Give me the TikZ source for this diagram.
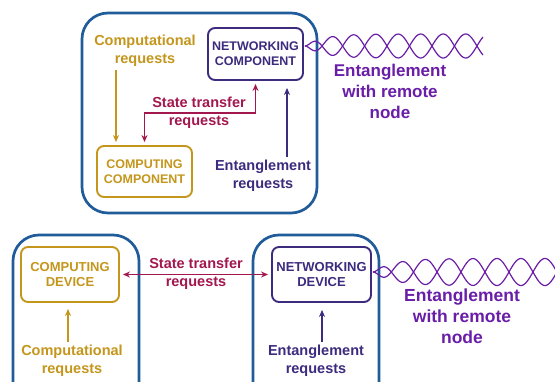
\documentclass[tikz,border=0pt]{standalone}
\usepackage{fontspec}
\setmainfont{Liberation Sans}
\usetikzlibrary{arrows.meta,calc}
\definecolor{cgold}{HTML}{C4961C}
\definecolor{ccrim}{HTML}{A3174F}
\definecolor{cpurp}{HTML}{3D2B7E}
\definecolor{cviol}{HTML}{6A1EA8}
\definecolor{cblue}{HTML}{1F5C99}
\begin{document}
\begin{tikzpicture}[x=1pt,y=-1pt,
  outerbox/.style={draw=cblue, line width=2.7pt, rounded corners=26pt, inner sep=0pt},
  innerbox/.style={line width=1.9pt, rounded corners=7pt, align=center, inner sep=0pt, font=\bfseries\fontsize{12.5}{15}\selectfont},
  compbox/.style={innerbox, draw=cgold, text=cgold},
  netbox/.style={innerbox, draw=cpurp, text=cpurp},
  reqtext/.style={align=center, font=\bfseries\fontsize{14.5}{18}\selectfont},
  remtext/.style={align=center, text=cviol, font=\bfseries\fontsize{17}{21}\selectfont},
  tip/.style={-{Stealth[length=7pt,width=6pt]}},
  garrow/.style={tip, draw=cgold, line width=1.8pt},
  parrow/.style={tip, draw=cpurp, line width=1.8pt},
  carrow/.style={{Stealth[length=7pt,width=6pt]}-{Stealth[length=7pt,width=6pt]}, draw=ccrim, line width=1.8pt, shorten <=3pt, shorten >=3pt},
  wave/.style={draw=cviol, line width=1.2pt}
]
\clip (0,0) rectangle (555,381);
\fill[white] (0,0) rectangle (555,381);

% ---------- top ----------
\node[outerbox, minimum width=235pt, minimum height=200pt] (tophost) at (199.5,113) {};
\node[netbox, minimum width=95pt, minimum height=52pt] (nc) at (255.5,54) {NETWORKING\\COMPONENT};
\node[compbox, minimum width=95pt, minimum height=51pt] (cc) at (144.5,171.5) {COMPUTING\\COMPONENT};
\node[reqtext, text=cgold] (creq) at (145,51) {Computational\\requests};
\node[reqtext, text=cpurp] (ereq) at (263,176) {Entanglement\\requests};
\node[reqtext, text=ccrim] (st1) at (199,113) {State transfer\\requests};
\node[remtext] (rem1) at (390,91) {Entanglement\\with remote\\node};

\draw[garrow, shorten >=3pt] ([xshift=-29pt]creq.south) -- ([xshift=-29pt]creq.south |- cc.north);
\draw[carrow] (cc.north) |- (st1.center) -| (nc.south);
\draw[parrow, shorten >=7pt] ([xshift=24pt]ereq.north) -- ([xshift=24pt]ereq.north |- nc.south);

\coordinate (w1) at ($(nc.east)+(1,-8)$);
\begin{scope}[shift={(w1)}]
\draw[wave] plot[domain=0:178, samples=220, smooth] (\x, {12*(1-exp(-\x/18))*sin(180/22.5*(\x+8*(1-exp(-\x/15))))});
\draw[wave] plot[domain=0:178, samples=220, smooth] (\x, {-12*(1-exp(-\x/18))*sin(180/22.5*(\x+8*(1-exp(-\x/15))))});
\end{scope}

% ---------- bottom ----------
\node[outerbox, minimum width=126pt, minimum height=200pt] (lhost) at (76,335) {};
\node[outerbox, minimum width=126pt, minimum height=200pt] (rhost) at (316,335) {};
\node[compbox, minimum width=98pt, minimum height=55pt, font=\bfseries\fontsize{13}{15.5}\selectfont] (cd) at (70,274.5) {COMPUTING\\DEVICE};
\node[netbox, minimum width=99pt, minimum height=55pt, font=\bfseries\fontsize{13}{15.5}\selectfont] (nd) at (321.5,274.5) {NETWORKING\\DEVICE};
\node[reqtext, text=ccrim] (st2) at (196,274) {State transfer\\requests};
\node[reqtext, text=cgold] (creq2) at (72,361) {Computational\\requests};
\node[reqtext, text=cpurp] (ereq2) at (316,361) {Entanglement\\requests};
\node[remtext, font=\bfseries\fontsize{17.5}{21}\selectfont] (rem2) at (462,316) {Entanglement\\with remote\\node};

\draw[carrow] (cd.east) -- (nd.west);
\draw[garrow, shorten >=6pt] ([xshift=-4pt]creq2.north) -- ([xshift=-4pt]creq2.north |- cd.south);
\draw[parrow, shorten >=7pt] ([xshift=6pt]ereq2.north) -- ([xshift=6pt]ereq2.north |- nd.south);

\coordinate (w2) at ($(nd.east)+(1,-2.5)$);
\begin{scope}[shift={(w2)}]
\draw[wave] plot[domain=0:200, samples=240, smooth] (\x, {13.5*(1-exp(-\x/20))*sin(180/24*(\x+8*(1-exp(-\x/15))))});
\draw[wave] plot[domain=0:200, samples=240, smooth] (\x, {-13.5*(1-exp(-\x/20))*sin(180/24*(\x+8*(1-exp(-\x/15))))});
\end{scope}
\end{tikzpicture}
\end{document}
